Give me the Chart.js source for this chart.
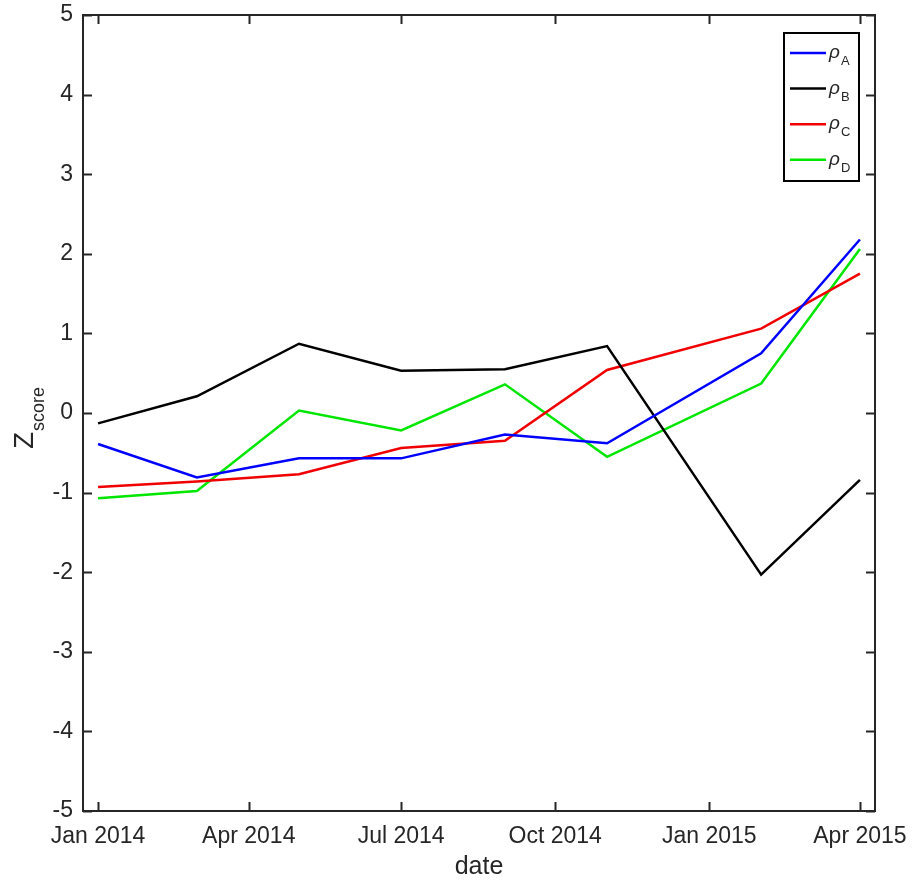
<!DOCTYPE html>
<html>
<head>
<meta charset="utf-8">
<script src="https://cdn.jsdelivr.net/npm/chart.js@4.4.1/dist/chart.umd.min.js"></script>
<style>
  html, body { margin: 0; padding: 0; background: #fff; }
  #wrap { width: 913px; height: 884px; }
</style>
</head>
<body>
<div id="wrap"><canvas id="zChart"></canvas></div>
<script>
// sample dates and z-scores per series
const dates = ['2014-01-01', '2014-03-01', '2014-05-01', '2014-07-01', '2014-09-01', '2014-11-01', '2015-02-01', '2015-04-01'];
const seriesNames = ['A', 'B', 'C', 'D'];
const rhoA = [-0.39, -0.81, -0.57, -0.57, -0.27, -0.38, 0.75, 2.18];
const rhoB = [-0.13, 0.21, 0.87, 0.53, 0.55, 0.84, -2.03, -0.84];
const rhoC = [-0.93, -0.86, -0.77, -0.44, -0.35, 0.54, 1.06, 1.75];
const rhoD = [-1.07, -0.98, 0.03, -0.22, 0.36, -0.55, 0.37, 2.06];
const seriesColors = ['#0000ff', '#000000', '#f00000', '#00e600'];

// axis ticks
const tickDates = ['2014-01-01', '2014-04-01', '2014-07-01', '2014-10-01', '2015-01-01', '2015-04-01'];
const tickLabels = ['Jan 2014', 'Apr 2014', 'Jul 2014', 'Oct 2014', 'Jan 2015', 'Apr 2015'];
const yTicks = [-5, -4, -3, -2, -1, 0, 1, 2, 3, 4, 5];

const FONT = '"Liberation Sans", Arial, sans-serif';
const AXIS_COLOR = '#262626';
const DAY = 86400000;
const t0 = Date.parse(dates[0]);
const toDays = d => (Date.parse(d) - t0) / DAY;

const tickDays = tickDates.map(toDays);

const datasets = [rhoA, rhoB, rhoC, rhoD].map((vals, i) => ({
    label: 'ρ' + seriesNames[i],
    data: vals.map((v, j) => ({ x: toDays(dates[j]), y: v })),
    borderColor: seriesColors[i],
    backgroundColor: seriesColors[i],
    borderWidth: 2.5,
    pointRadius: 0,
    tension: 0,
    fill: false
}));

// box + inward ticks, matlab style
const framePlugin = {
    id: 'frame',
    afterDatasetsDraw(chart) {
        const { ctx, chartArea: a, scales } = chart;
        const len = 9;
        ctx.save();
        ctx.strokeStyle = AXIS_COLOR;
        ctx.lineWidth = 2;
        ctx.beginPath();
        scales.x.ticks.forEach(t => {
            const px = Math.round(scales.x.getPixelForValue(t.value)) + 0.5;
            ctx.moveTo(px, a.bottom); ctx.lineTo(px, a.bottom - len);
            ctx.moveTo(px, a.top); ctx.lineTo(px, a.top + len);
        });
        scales.y.ticks.forEach(t => {
            const py = Math.round(scales.y.getPixelForValue(t.value)) + 0.5;
            ctx.moveTo(a.left, py); ctx.lineTo(a.left + len, py);
            ctx.moveTo(a.right, py); ctx.lineTo(a.right - len, py);
        });
        ctx.stroke();
        ctx.strokeRect(a.left, a.top, a.right - a.left, a.bottom - a.top);
        ctx.restore();
    }
};

// legend with subscripted labels
const rhoLegend = {
    id: 'rhoLegend',
    afterDraw(chart) {
        const { ctx, chartArea: a } = chart;
        const w = 75, h = 148;
        const x0 = a.right - 16 - w, y0 = a.top + 18;
        ctx.save();
        ctx.fillStyle = '#fff';
        ctx.fillRect(x0, y0, w, h);
        ctx.strokeStyle = '#000';
        ctx.lineWidth = 2;
        ctx.strokeRect(x0, y0, w, h);
        chart.data.datasets.forEach((ds, i) => {
            const y = y0 + 20 + i * 35.6;
            ctx.strokeStyle = ds.borderColor;
            ctx.lineWidth = 2.5;
            ctx.beginPath();
            ctx.moveTo(x0 + 6, y); ctx.lineTo(x0 + 42, y);
            ctx.stroke();
            ctx.fillStyle = AXIS_COLOR;
            ctx.textBaseline = 'alphabetic';
            ctx.font = 'italic 19px ' + FONT;
            ctx.fillText(ds.label.charAt(0), x0 + 45, y + 5);
            const rw = ctx.measureText(ds.label.charAt(0)).width;
            ctx.font = '13px ' + FONT;
            ctx.fillText(ds.label.slice(1), x0 + 46 + rw, y + 12);
        });
        ctx.restore();
    }
};

// y title Z with subscript "score"
const zTitle = {
    id: 'zTitle',
    afterDraw(chart) {
        const { ctx, chartArea: a } = chart;
        ctx.save();
        ctx.fillStyle = AXIS_COLOR;
        ctx.textBaseline = 'alphabetic';
        ctx.font = '28px ' + FONT;
        const zw = ctx.measureText('Z').width;
        ctx.font = '18px ' + FONT;
        const sw = ctx.measureText('score').width;
        const total = zw + 1 + sw;
        const cy = (a.top + a.bottom) / 2 + 5;
        ctx.translate(33, cy + total / 2);
        ctx.rotate(-Math.PI / 2);
        ctx.font = '28px ' + FONT;
        ctx.fillText('Z', 0, 0);
        ctx.font = '18px ' + FONT;
        ctx.fillText('score', zw + 1, 11);
        ctx.restore();
    }
};

const config = {
    type: 'line',
    data: { datasets: datasets },
    options: {
        responsive: true,
        maintainAspectRatio: false,
        animation: false,
        layout: { padding: { top: 15, right: 38, left: 0, bottom: 0 } },
        plugins: {
            legend: { display: false },
            tooltip: { enabled: false }
        },
        scales: {
            x: {
                type: 'linear',
                min: -9,
                max: 464,
                afterBuildTicks: scale => {
                    scale.ticks = tickDays.map(v => ({ value: v }));
                },
                afterFit: scale => {
                    scale.height = 73;
                    scale.paddingLeft = 0;
                    scale.paddingRight = 0;
                },
                grid: { display: false, drawTicks: false },
                border: { display: false },
                ticks: {
                    padding: 12,
                    maxRotation: 0,
                    autoSkip: false,
                    color: AXIS_COLOR,
                    font: { family: FONT, size: 23 },
                    callback: v => tickLabels[tickDays.indexOf(v)]
                },
                title: {
                    display: true,
                    text: 'date',
                    color: AXIS_COLOR,
                    font: { family: FONT, size: 25 },
                    padding: { top: 0, bottom: 2 }
                }
            },
            y: {
                min: -5,
                max: 5,
                afterBuildTicks: scale => {
                    scale.ticks = yTicks.map(v => ({ value: v }));
                },
                afterFit: scale => {
                    scale.width = 83;
                    scale.paddingTop = 0;
                    scale.paddingBottom = 0;
                },
                grid: { display: false, drawTicks: false },
                border: { display: false },
                ticks: {
                    padding: 10,
                    color: AXIS_COLOR,
                    font: { family: FONT, size: 23 }
                }
            }
        }
    },
    plugins: [framePlugin, rhoLegend, zTitle]
};

new Chart(document.getElementById('zChart'), config);
</script>
</body>
</html>
